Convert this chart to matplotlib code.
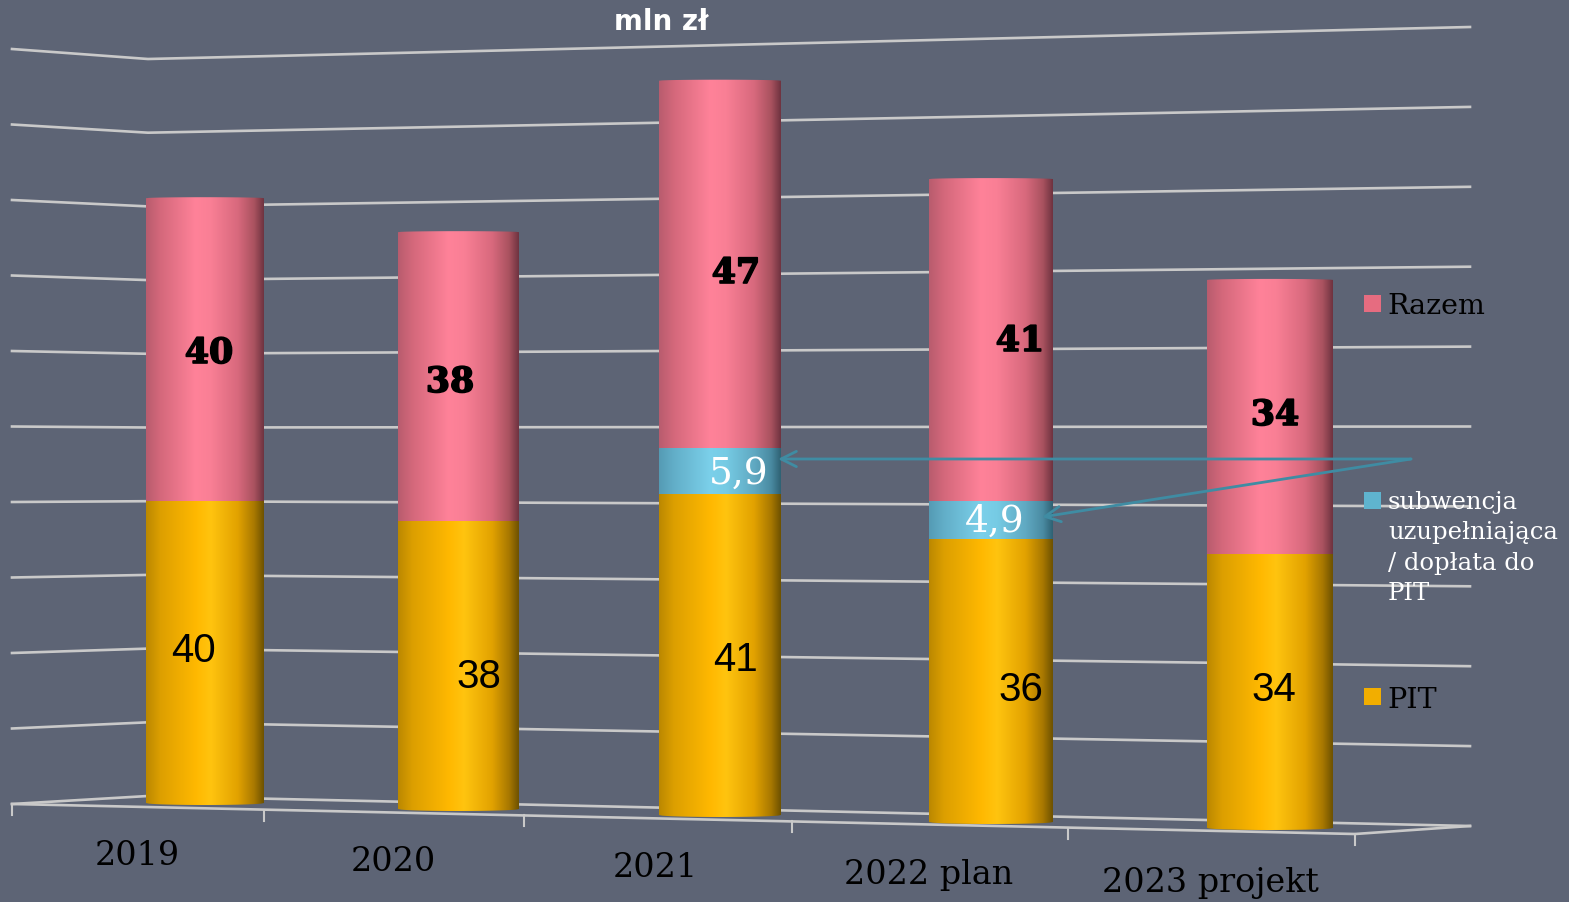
import matplotlib
matplotlib.use('Agg')
import matplotlib.pyplot as plt
import matplotlib.patheffects as pe
from matplotlib.colors import LinearSegmentedColormap
from matplotlib.patches import Polygon, Rectangle
import numpy as np

# data, mln zl
years = ['2019', '2020', '2021', '2022 plan', '2023 projekt']
pit = [40, 38, 41, 36, 34]
subwencja = [0, 0, 5.9, 4.9, 0]
razem = [40, 38, 47, 41, 34]
grid_values = [0, 10, 20, 30, 40, 50, 60, 70, 80, 90, 100]
legend_names = ['Razem', 'subwencja\nuzupełniająca\n/ dopłata do\nPIT', 'PIT']

# layout in picture pixels, the chart is a fake 3d perspective so every bar has its own scale
bar_left = [146, 398, 659, 929, 1207]
bar_right = [264, 519, 781, 1053, 1333]
bar_base = [803, 809, 815, 822, 828]
bar_scale = [7.56, 7.59, 7.82, 7.85, 8.06]
wall_x = [12, 148, 1470]
floor_y = [804, 796, 826]
top_y = [49, 59, 27]
tick_x = [12, 264, 524, 792, 1068, 1355]

BG = '#5d6475'
GRID = '#c9c9c9'
ARROW = '#3f8ca3'

stops = [0, 0.12, 0.42, 0.55, 0.78, 0.92, 1]
pink = LinearSegmentedColormap.from_list('pink', list(zip(stops, ['#b85c6e', '#d4687b', '#ff8299', '#f97f95', '#d8697d', '#a9525f', '#6f3340'])))
blue = LinearSegmentedColormap.from_list('blue', list(zip(stops, ['#559bb4', '#62aec8', '#7bd0ea', '#76cbe4', '#60a9c2', '#4a8ba2', '#2f6274'])))
gold = LinearSegmentedColormap.from_list('gold', list(zip(stops, ['#bb8800', '#dc9f00', '#ffb800', '#ffc40f', '#e2a200', '#a87800', '#6e5200'])))

fig = plt.figure(figsize=(15.69, 9.02), dpi=100, facecolor=BG)
ax = fig.add_axes([0, 0, 1, 1])
ax.set_xlim(0, 1569)
ax.set_ylim(902, 0)
ax.set_autoscale_on(False)
ax.axis('off')

# back wall and side wall grid
for v in grid_values:
    ys = [f + (t - f) * v / 100 for f, t in zip(floor_y, top_y)]
    ax.plot(wall_x, ys, color=GRID, lw=1.9, zorder=1)

# front edge of the floor + ticks
front_x = [12, 1355, 1470]
front_y = [804, 834, 826]
ax.plot(front_x, front_y, color=GRID, lw=1.9, zorder=1)
for x in tick_x:
    y = np.interp(x, front_x, front_y)
    ax.plot([x, x], [y, y + 11], color=GRID, lw=1.5, zorder=1)

gradient = np.linspace(0, 1, 256).reshape(1, -1)

for i in range(len(years)):
    l, r, base, sc = bar_left[i], bar_right[i], bar_base[i], bar_scale[i]
    total = pit[i] + subwencja[i] + razem[i]
    top = base - total * sc
    # cylinder outline, curved at top and bottom
    t = np.linspace(-1, 1, 40)
    xs = (l + r) / 2 + t * (r - l) / 2
    outline = list(zip(xs, top - 1 * np.sqrt(1 - t ** 2))) + list(zip(xs[::-1], base + 2 * np.sqrt(1 - t ** 2)))
    clip = Polygon(outline, closed=True, transform=ax.transData, fc='none', ec='none')
    ax.add_patch(clip)
    bottom = 0
    for vals, cmap in [(pit, gold), (subwencja, blue), (razem, pink)]:
        if vals[i] == 0:
            continue
        y0 = base - bottom * sc
        y1 = base - (bottom + vals[i]) * sc
        # a few px extra so the caps at the ends are filled, the clip cuts them
        pad0 = 4 if bottom == 0 else 0
        pad1 = 4 if vals is razem else 0
        im = ax.imshow(gradient, cmap=cmap, aspect='auto', extent=(l, r, y0 + pad0, y1 - pad1), zorder=3, interpolation='bilinear')
        im.set_clip_path(clip)
        bottom += vals[i]

# value labels
bold_pos = [(209, 353), (450, 382), (736, 273), (1020, 341), (1275, 415)]
pit_pos = [(193, 651), (479, 677), (735, 660), (1021, 690), (1274, 690)]
heavy = [pe.withStroke(linewidth=1.2, foreground='black')]
for i, (x, y) in enumerate(bold_pos):
    ax.text(x, y, str(razem[i]), family='DejaVu Serif', weight='bold', fontsize=25, color='black', ha='center', va='center', zorder=5, path_effects=heavy)
for i, (x, y) in enumerate(pit_pos):
    ax.text(x, y, str(pit[i]), family='Liberation Sans', fontsize=29, color='black', ha='center', va='center', zorder=5)
ax.text(739, 474, str(subwencja[2]).replace('.', ','), family='DejaVu Serif', fontsize=27, color='white', ha='center', va='center', zorder=5)
ax.text(995, 522, str(subwencja[3]).replace('.', ','), family='DejaVu Serif', fontsize=27, color='white', ha='center', va='center', zorder=5)

# leader arrows from the legend entry
for target in [(778, 459), (1042, 517)]:
    ax.annotate('', xy=target, xytext=(1411, 459), zorder=6,
                arrowprops=dict(arrowstyle='->,head_length=1.1,head_width=0.55', color=ARROW, lw=2, shrinkA=0, shrinkB=0))

# category labels, they follow the floor
label_pos = [(137, 856), (393, 862), (655, 868), (929, 875), (1210, 883)]
for name, (x, y) in zip(years, label_pos):
    ax.text(x, y, name, family='DejaVu Serif', fontsize=24, color='black', ha='center', va='center', zorder=5)

# legend, drawn by hand to sit where it does in the slide
ax.add_patch(Rectangle((1364, 295), 17, 17, fc='#e66c80', ec='none', zorder=4))
ax.add_patch(Rectangle((1364, 492), 17, 17, fc='#5fb4cf', ec='none', zorder=4))
ax.add_patch(Rectangle((1364, 688), 17, 17, fc='#f2ae00', ec='none', zorder=4))
ax.text(1387, 306, legend_names[0], family='DejaVu Serif', fontsize=20.5, color='black', va='center', zorder=5)
ax.text(1388, 548, legend_names[1], family='DejaVu Serif', fontsize=17.5, color='white', va='center', linespacing=1.4, zorder=5)
ax.text(1387, 700, legend_names[2], family='DejaVu Serif', fontsize=20.5, color='black', va='center', zorder=5)

ax.text(661, 22, 'mln zł', family='DejaVu Sans', weight='bold', fontsize=20, color='white', ha='center', va='center', zorder=5)

fig.savefig('out.png', dpi=100, facecolor=BG)
plt.close()
